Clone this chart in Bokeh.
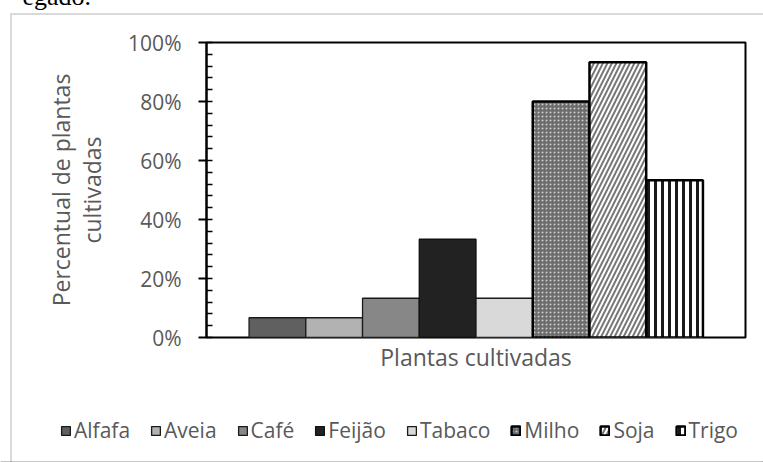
from bokeh.plotting import figure
from bokeh.layouts import column
from bokeh.models import (Range1d, SingleIntervalTicker, FixedTicker, NumeralTickFormatter,
                          Legend, LegendItem, ColumnDataSource)
from bokeh.embed import file_html
from bokeh.resources import INLINE

# Share of farms growing each crop
crops = ["Alfafa", "Aveia", "Café", "Feijão", "Tabaco", "Milho", "Soja", "Trigo"]
shares = [0.067, 0.067, 0.133, 0.333, 0.133, 0.800, 0.933, 0.533]

x_title = "Plantas cultivadas"
y_title = "Percentual de plantas\ncultivadas"
lead_text = "egado."

FONT = "Open Sans"
GREY_TEXT = "#595959"
LIFT = 70          # page is pulled up so the leading sentence is cut at the top
CHART_H = 410      # visible height of the chart figure
LEGEND_H = 52      # height of the legend strip

# Fill / hatch style of each series
styles = {
    "Alfafa": dict(fill_color="#606060", line_color="#1a1a1a", line_width=1.3),
    "Aveia": dict(fill_color="#b2b2b2", line_color="#1a1a1a", line_width=1.3),
    "Café": dict(fill_color="#878787", line_color="#1a1a1a", line_width=1.3),
    "Feijão": dict(fill_color="#222222", line_color="#111111", line_width=1.3),
    "Tabaco": dict(fill_color="#d9d9d9", line_color="#1a1a1a", line_width=1.3),
    "Milho": dict(fill_color="#6c6c6c", hatch_pattern="dot", hatch_color="#cdcdcd",
                  hatch_scale=4, hatch_weight=1, line_color="black", line_width=2.5),
    "Soja": dict(fill_color="white", hatch_pattern="right_diagonal_line", hatch_color="#777777",
                 hatch_scale=9, hatch_weight=2, line_color="black", line_width=2.5),
    "Trigo": dict(fill_color="white", hatch_pattern="vertical_line", hatch_color="#1a1a1a",
                  hatch_scale=7, hatch_weight=3, line_color="black", line_width=2.5),
}

p = figure(width=763, height=CHART_H + LIFT,
           x_range=Range1d(-1.25, len(crops) + 0.25), y_range=Range1d(0, 1),
           output_backend="svg", toolbar_location=None,
           min_border_left=206, min_border_right=18,
           min_border_top=42 + LIFT, min_border_bottom=CHART_H - 42 - 295)
p.border_fill_alpha = 0

p.title.text = lead_text
p.title.text_font = "Liberation Serif"
p.title.text_font_size = "26px"
p.title.text_font_style = "normal"
p.title.text_color = "black"
p.title.align = "left"
p.title.offset = 22 - 206
p.title.standoff = 63

p.grid.visible = False
p.outline_line_color = "black"
p.outline_line_width = 2
p.background_fill_color = "white"

# y axis: percentages with minor ticks inside the frame
p.yaxis.ticker = SingleIntervalTicker(interval=0.2, num_minor_ticks=5)
p.yaxis.formatter = NumeralTickFormatter(format="0%")
p.yaxis.axis_line_color = "black"
p.yaxis.axis_line_width = 2
p.yaxis.major_tick_line_color = "black"
p.yaxis.major_tick_line_width = 2
p.yaxis.major_tick_out = 8
p.yaxis.major_tick_in = 0
p.yaxis.minor_tick_line_color = "black"
p.yaxis.minor_tick_line_width = 1.5
p.yaxis.minor_tick_in = 6
p.yaxis.minor_tick_out = 0
p.yaxis.major_label_standoff = 17
p.yaxis.major_label_text_font = FONT
p.yaxis.major_label_text_font_size = "21px"
p.yaxis.major_label_text_color = GREY_TEXT
p.yaxis.axis_label = y_title
p.yaxis.axis_label_standoff = 17
p.yaxis.axis_label_text_align = "center"
p.yaxis.axis_label_text_line_height = 0.96
p.yaxis.axis_label_text_font = FONT
p.yaxis.axis_label_text_font_size = "23px"
p.yaxis.axis_label_text_font_style = "normal"
p.yaxis.axis_label_text_color = GREY_TEXT

# x axis: title only
p.xaxis.ticker = FixedTicker(ticks=[])
p.xaxis.axis_line_color = None
p.xaxis.major_tick_line_color = None
p.xaxis.minor_tick_line_color = None
p.xaxis.axis_label = x_title
p.xaxis.axis_label_standoff = 3
p.xaxis.axis_label_text_font = FONT
p.xaxis.axis_label_text_font_size = "23px"
p.xaxis.axis_label_text_font_style = "normal"
p.xaxis.axis_label_text_color = GREY_TEXT

# legend strip under the chart; its ranges sit above every bar so only swatches show
leg = figure(width=763, height=LEGEND_H, x_range=Range1d(0, 1), y_range=Range1d(2, 3),
             output_backend="svg", toolbar_location=None,
             x_axis_type=None, y_axis_type=None,
             min_border_left=0, min_border_right=0, min_border_top=0, min_border_bottom=0)
leg.grid.visible = False
leg.outline_line_color = None
leg.background_fill_alpha = 0
leg.border_fill_alpha = 0

for fig in (p, leg):
    if "frame_align" in fig.properties():
        fig.frame_align = False

items = []
for i, crop in enumerate(crops):
    src = ColumnDataSource(dict(x=[i], top=[shares[i]]))
    p.vbar(x="x", top="top", width=1, bottom=0, source=src, **styles[crop])
    swatch = leg.vbar(x="x", top="top", width=1, bottom=0, source=src, **styles[crop])
    items.append(LegendItem(label=crop, renderers=[swatch]))

legend = Legend(items=items, orientation="horizontal", location=(60, 18),
                padding=0, margin=0, spacing=20, glyph_width=11, glyph_height=11,
                label_standoff=3, border_line_alpha=0, background_fill_alpha=0,
                label_text_font=FONT, label_text_font_size="21px",
                label_text_color=GREY_TEXT)
leg.add_layout(legend, "center")

page = column(p, leg, spacing=0)
# white page with the light frame lines round the chart area
page.styles = {
    "margin-top": f"-{LIFT}px",
    "background": (
        f"linear-gradient(#d9d9d9, #d9d9d9) 10px {13 + LIFT}px / 2px 100% no-repeat, "
        f"linear-gradient(#d9d9d9, #d9d9d9) 10px {13 + LIFT}px / 100% 2px no-repeat, "
        "#ffffff"
    ),
}

open("out.html", "w").write(file_html(page, INLINE))
